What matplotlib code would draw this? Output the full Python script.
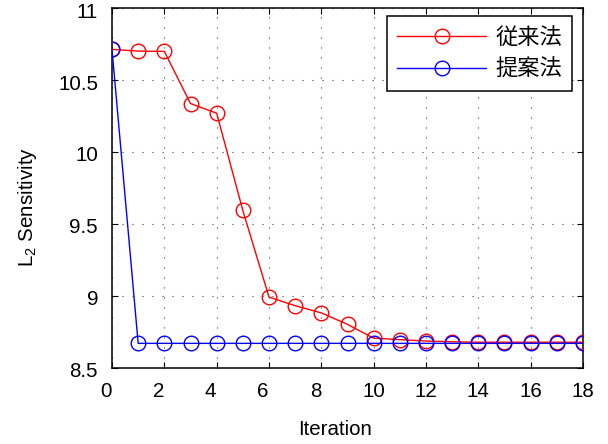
import matplotlib
matplotlib.use("Agg")
import matplotlib.pyplot as plt
from matplotlib.transforms import ScaledTranslation

plt.rcParams['font.family'] = ['Liberation Sans', 'Noto Sans CJK JP', 'DejaVu Sans']
plt.rcParams['mathtext.fontset'] = 'custom'
plt.rcParams['mathtext.rm'] = 'Liberation Sans'
plt.rcParams['mathtext.it'] = 'Liberation Sans'

iterations = list(range(19))
conventional = [10.714, 10.702, 10.700, 10.337, 10.270, 9.593, 8.990, 8.930, 8.880,
                8.800, 8.704, 8.694, 8.684, 8.679, 8.676, 8.676, 8.676, 8.676, 8.676]
proposed = [10.714] + [8.668] * 18
series_labels = ['従来法', '提案法']
xticks = list(range(0, 19, 2))
yticks = [8.5, 9, 9.5, 10, 10.5, 11]
ytick_labels = ['8.5', '9', '9.5', '10', '10.5', '11']

FS = 14.8
fig = plt.figure(figsize=(6.08, 4.44), dpi=100)
ax = fig.add_axes([112/608, 1-367.5/444, (583-112)/608, (367.5-8.3)/444])

ax.plot(iterations, conventional, color='#ff0000', lw=1.0, marker='o', ms=10.5,
        mfc='none', mec='#ff0000', mew=1.0, label=series_labels[0], zorder=3)
ax.plot(iterations, proposed, color='#0000ff', lw=1.0, marker='o', ms=10.5,
        mfc='none', mec='#0000ff', mew=1.0, label=series_labels[1], zorder=4)

ax.set_xlim(0, 18)
ax.set_ylim(8.5, 11)
ax.set_xticks(xticks)
ax.set_xticklabels([str(t) for t in xticks])
ax.set_yticks(yticks)
ax.set_yticklabels(ytick_labels)

ax.grid(True, color='0.25', linestyle=(0, (1, 8)), linewidth=0.8)
ax.tick_params(direction='in', length=4, width=0.8, top=True, right=True,
               labelsize=FS, color='k')
ax.tick_params(axis='y', pad=10)
ax.tick_params(axis='x', pad=10.5)
for s in ax.spines.values():
    s.set_linewidth(1.1)
    s.set_color('k')

for tick in ax.xaxis.get_major_ticks():
    txt = tick.label1.get_text()
    if len(txt) == 1:
        tick.label1.set_transform(tick.label1.get_transform() +
                                  ScaledTranslation(-6/100, 0, fig.dpi_scale_trans))
for tick in ax.yaxis.get_major_ticks():
    tick.label1.set_transform(tick.label1.get_transform() +
                              ScaledTranslation(0, -2/100, fig.dpi_scale_trans))

ax.set_xlabel('Iteration', fontsize=FS)
ax.xaxis.set_label_coords(0.4735, -0.146)
ax.set_ylabel(r'$\mathregular{L_2}$ Sensitivity', fontsize=FS)
ax.yaxis.set_label_coords(-0.155, 0.4477)

leg = ax.legend(loc='upper right', bbox_to_anchor=(0.9766, 0.9786),
                prop={'family': ['Noto Sans CJK JP'], 'size': 16},
                handlelength=4.0, handletextpad=0.4, borderpad=0.45,
                labelspacing=0.41, fancybox=False, framealpha=1,
                edgecolor='k', borderaxespad=0)
leg.get_frame().set_linewidth(1.1)

fig.savefig('out.png', dpi=100)
